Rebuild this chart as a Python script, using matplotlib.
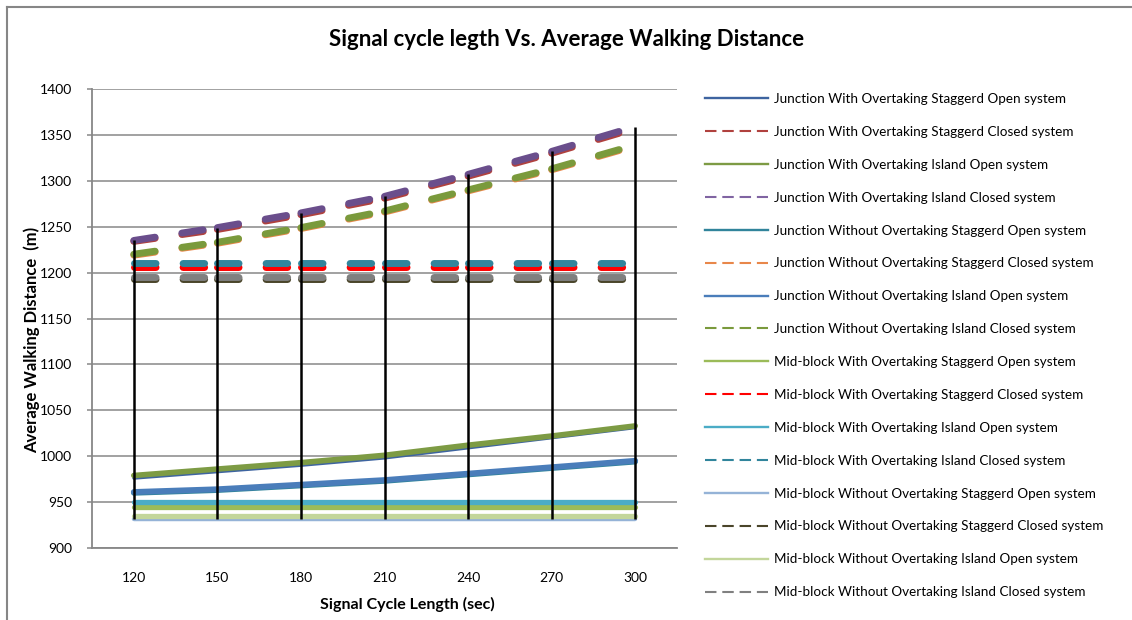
import matplotlib
matplotlib.use("Agg")
import matplotlib.pyplot as plt
from matplotlib.lines import Line2D

plt.rcParams['font.family'] = ['Lato', 'DejaVu Sans']

# ciclo semaforico (sec)
ciclos = [120, 150, 180, 210, 240, 270, 300]

# distancias promedio (m)
jw_stag_open = [976, 983, 990, 998, 1009, 1020, 1031]
jw_stag_closed = [1234, 1247, 1263, 1281, 1305, 1330, 1357]
jw_isl_open = [979, 986, 993, 1001, 1012, 1022, 1033]
jw_isl_closed = [1235, 1249, 1265, 1283, 1307, 1332, 1359]
jwo_stag_open = [960, 963, 968, 973, 980, 987, 994]
jwo_stag_closed = [1219, 1232, 1248, 1266, 1289, 1312, 1338]
jwo_isl_open = [961, 964, 969, 974, 981, 988, 995]
jwo_isl_closed = [1220, 1233, 1249, 1267, 1290, 1313, 1339]
mb_w_stag_open = [945] * 7
mb_w_stag_closed = [1206] * 7
mb_w_isl_open = [950] * 7
mb_w_isl_closed = [1211] * 7
mb_wo_stag_open = [932] * 7
mb_wo_stag_closed = [1193] * 7
mb_wo_isl_open = [935] * 7
mb_wo_isl_closed = [1195] * 7

nombres = [
    "Junction With Overtaking Staggerd Open system",
    "Junction With Overtaking Staggerd Closed system",
    "Junction With Overtaking Island Open system",
    "Junction With Overtaking Island Closed system",
    "Junction Without Overtaking Staggerd Open system",
    "Junction Without Overtaking Staggerd Closed system",
    "Junction Without Overtaking Island Open system",
    "Junction Without Overtaking Island Closed system",
    "Mid-block With Overtaking Staggerd Open system",
    "Mid-block With Overtaking Staggerd Closed system",
    "Mid-block With Overtaking Island Open system",
    "Mid-block With Overtaking Island Closed system",
    "Mid-block Without Overtaking Staggerd Open system",
    "Mid-block Without Overtaking Staggerd Closed system",
    "Mid-block Without Overtaking Island Open system",
    "Mid-block Without Overtaking Island Closed system",
]
series = [
    jw_stag_open, jw_stag_closed, jw_isl_open, jw_isl_closed,
    jwo_stag_open, jwo_stag_closed, jwo_isl_open, jwo_isl_closed,
    mb_w_stag_open, mb_w_stag_closed, mb_w_isl_open, mb_w_isl_closed,
    mb_wo_stag_open, mb_wo_stag_closed, mb_wo_isl_open, mb_wo_isl_closed,
]
colores = [
    '#3E64A0', '#B0413E', '#7D9B44', '#6A4E8C',
    '#31849B', '#E8874A', '#4A7DBA', '#7A9A3C',
    '#9BBB59', '#FF0000', '#4BACC6', '#31859C',
    '#95B3D7', '#4A452A', '#C3D69B', '#808080',
]
colores_ley = list(colores)
colores_ley[3] = '#8064A2'
cerrado = [n.endswith("Closed system") for n in nombres]
grosor = [2.2, 5, 4, 5, 4, 5, 4.2, 5, 3.8, 5, 3.8, 5, 3.2, 5, 3.8, 5]

fig = plt.figure(figsize=(11.32, 6.2), dpi=100)
ax = fig.add_axes([92 / 1132, 72 / 620, 585 / 1132, 459 / 620])

pos = list(range(len(ciclos)))
for k, vals in enumerate(series):
    if cerrado[k]:
        # el patron de trazos arranca de nuevo en cada tramo
        for i in range(len(pos) - 1):
            ax.plot(pos[i:i + 2], vals[i:i + 2], color=colores[k], lw=grosor[k],
                    dashes=(3.1, 3.9), dash_capstyle='round', zorder=2 + k)
    else:
        ax.plot(pos, vals, color=colores[k], lw=grosor[k],
                solid_capstyle='round', zorder=2 + k)

# lineas maximo-minimo
maximos = [max(s[i] for s in series) for i in pos]
minimos = [min(s[i] for s in series) for i in pos]
ax.vlines(pos, minimos, maximos, color='black', lw=1.8, zorder=30)

ax.set_xlim(-0.5, 6.5)
ax.set_ylim(900, 1400)
ax.set_yticks(range(900, 1401, 50))
ax.set_xticks(pos)
ax.set_xticklabels([str(c) for c in ciclos])
ax.yaxis.grid(True, color='#878787', lw=1.1)
ax.set_axisbelow(True)
for lado in ['top', 'right']:
    ax.spines[lado].set_visible(False)
for lado in ['left', 'bottom']:
    ax.spines[lado].set_color('#878787')
    ax.spines[lado].set_linewidth(1.3)
ax.tick_params(axis='y', length=3.6, width=1.1, color='#878787', pad=10.5, labelsize=10)
ax.tick_params(axis='x', length=0, pad=17, labelsize=10)

handles = []
for k in range(len(series)):
    if cerrado[k]:
        handles.append(Line2D([], [], color=colores_ley[k], lw=1.5, dashes=(5.5, 2.8)))
    else:
        handles.append(Line2D([], [], color=colores_ley[k], lw=1.7))
fig.legend(handles, nombres, loc='upper left', bbox_to_anchor=(705 / 1132, 1 - 93 / 620),
           frameon=False, fontsize=9.7, handlelength=4.7, handletextpad=0.45,
           labelspacing=1.55, borderpad=0, borderaxespad=0)

fig.text(567 / 1132, 1 - 40 / 620, "Signal cycle legth Vs. Average Walking Distance",
         ha='center', va='center', fontsize=16, fontweight='bold')
fig.text(32 / 1132, 1 - 340 / 620, "Average Walking Distance  (m)", rotation=90,
         ha='center', va='center', fontsize=12, fontweight='bold')
fig.text(407 / 1132, 1 - 604 / 620, "Signal Cycle Length (sec)",
         ha='center', va='center', fontsize=11.5, fontweight='bold')

# marco del grafico
fig.add_artist(Line2D([7 / 1132, 1], [1 - 7 / 620] * 2, transform=fig.transFigure,
                      color='#868686', lw=1.5))
fig.add_artist(Line2D([7 / 1132] * 2, [0, 1 - 7 / 620], transform=fig.transFigure,
                      color='#868686', lw=1.5))

fig.savefig("out.png", dpi=100)
